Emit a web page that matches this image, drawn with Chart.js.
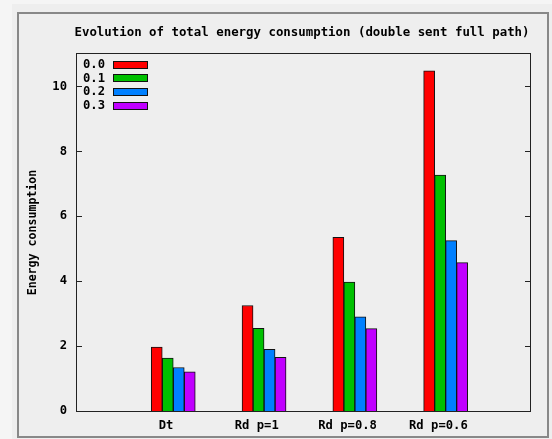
<!DOCTYPE html>
<html><head><meta charset="utf-8">
<script src="https://cdn.jsdelivr.net/npm/chart.js@4/dist/chart.umd.min.js"></script>
<style>html,body{margin:0;padding:0;background:#f5f5f5;overflow:hidden}canvas{display:block}</style>
</head><body>
<canvas id="c" width="552" height="439"></canvas>
<script>
// ---- data ----
const categories = ['Dt', 'Rd p=1', 'Rd p=0.8', 'Rd p=0.6'];
const seriesNames = ['0.0', '0.1', '0.2', '0.3'];
const s00 = [1.97, 3.25, 5.35, 10.48];
const s01 = [1.63, 2.55, 3.97, 7.27];
const s02 = [1.34, 1.90, 2.90, 5.25];
const s03 = [1.21, 1.65, 2.54, 4.57];
const yTicks = [0, 2, 4, 6, 8, 10];
const chartTitle = 'Evolution of total energy consumption (double sent full path)';
const yTitle = 'Energy consumption';

// ---- styles ----
const colors = ['#ff0000', '#00c000', '#0080ff', '#c000ff'];
const FONT = '"DejaVu Sans Mono", "Liberation Mono", monospace';
const seriesValues = [s00, s01, s02, s03];
const labelShift = -0.08;

const datasets = seriesValues.map((vals, k) => ({
  label: seriesNames[k],
  data: vals.map((v, i) => ({ x: i, y: v })),
  backgroundColor: colors[k],
  borderColor: '#111',
  borderWidth: 1,
  borderSkipped: 'bottom',
  barThickness: 11,
  grouped: true
}));

const decor = {
  id: 'decor',
  beforeDraw(chart) {
    const c = chart.ctx;
    c.save();
    c.fillStyle = '#f5f5f5';
    c.fillRect(0, 0, 552, 439);
    c.fillStyle = '#eeeeee';
    c.fillRect(12, 4, 540, 435);
    // outer frame
    c.strokeStyle = '#888';
    c.lineWidth = 2;
    c.strokeRect(18, 13, 530, 424);
    c.restore();
  },
  afterDatasetsDraw(chart) {
    const c = chart.ctx;
    const a = chart.chartArea;
    const ys = chart.scales.y;
    c.save();
    // plot border
    c.strokeStyle = '#222';
    c.lineWidth = 1;
    c.strokeRect(a.left - 0.5, a.top - 0.5, a.right - a.left, a.bottom - a.top + 1);
    // inward ticks, left and mirrored right
    ys.ticks.forEach((t, i) => {
      if (t.value === 0) return;
      const y = Math.round(ys.getPixelForTick(i)) + 0.5;
      c.beginPath();
      c.moveTo(a.left - 0.5, y); c.lineTo(a.left + 5, y);
      c.moveTo(a.right - 0.5, y); c.lineTo(a.right - 6, y);
      c.stroke();
    });
    // title
    c.fillStyle = '#000';
    c.font = 'bold 12.4px ' + FONT;
    c.textAlign = 'center';
    c.textBaseline = 'middle';
    c.fillText(chartTitle, (a.left + a.right) / 2 - 2, 33);
    // legend
    c.font = 'bold 12.2px ' + FONT;
    c.textAlign = 'right';
    chart.data.datasets.forEach((ds, k) => {
      const y = 64.5 + k * 13.9;
      c.fillStyle = '#000';
      c.fillText(ds.label, 105, y);
      c.fillStyle = ds.backgroundColor;
      c.fillRect(113, Math.round(y) - 3, 35, 6);
      c.strokeStyle = '#111';
      c.strokeRect(113.5, Math.round(y) - 3.5, 34, 7);
    });
    c.restore();
  }
};

new Chart(document.getElementById('c'), {
  type: 'bar',
  data: { datasets },
  options: {
    responsive: false,
    animation: false,
    devicePixelRatio: 1,
    layout: { padding: { left: 0, top: 54, right: 21, bottom: 0 } },
    plugins: { legend: { display: false }, tooltip: { enabled: false }, title: { display: false } },
    scales: {
      x: {
        type: 'linear',
        min: -1.06,
        max: 3.94,
        offset: false,
        grid: { display: false, drawTicks: false },
        border: { display: false },
        afterBuildTicks: s => { s.ticks = categories.map((c, i) => ({ value: i + labelShift })); },
        afterFit: s => { s.height = 28; },
        ticks: {
          autoSkip: false, maxRotation: 0, padding: 8, color: '#000',
          font: { family: FONT, size: 12.2, weight: 'bold' },
          callback: (v, i) => categories[i]
        }
      },
      y: {
        min: 0,
        max: 11,
        grid: { display: false, drawTicks: false },
        border: { display: false },
        afterBuildTicks: s => { s.ticks = yTicks.map(v => ({ value: v })); },
        afterFit: s => { s.width = 77; },
        ticks: { padding: 10, color: '#000', font: { family: FONT, size: 12.2, weight: 'bold' } },
        title: {
          display: true, text: yTitle, color: '#000',
          font: { family: FONT, size: 11.6, weight: 'bold' },
          padding: { top: 26, bottom: 0 }
        }
      }
    }
  },
  plugins: [decor]
});
</script>
</body></html>
